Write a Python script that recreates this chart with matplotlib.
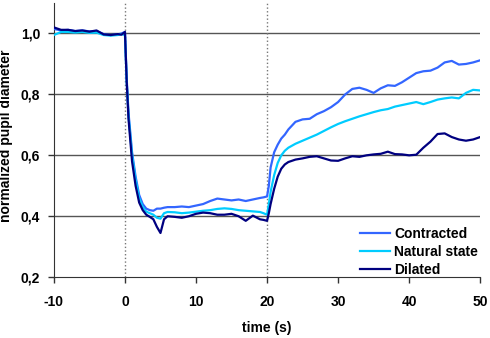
import matplotlib.pyplot as plt

plt.rcParams['font.family'] = ['Liberation Sans', 'DejaVu Sans']
plt.rcParams['font.weight'] = 'bold'
plt.rcParams['axes.unicode_minus'] = False

# time axis (s)
time = [-10, -9, -8, -7, -6, -5, -4, -3, -2, -1, -0.5, 0,
        0.25, 0.5, 1, 1.5, 2, 2.5, 3, 3.5, 4, 4.5, 5, 5.5, 6,
        7, 8, 9, 10, 11, 12, 13, 14, 15, 16, 17, 18, 19, 19.5, 20,
        20.25, 20.5, 21, 21.5, 22, 22.5, 23, 24,
        25, 26, 27, 28, 29, 30, 31, 32, 33, 34, 35, 36, 37, 38, 39,
        40, 41, 42, 43, 44, 45, 46, 47, 48, 49, 50]

contracted = [1.015, 1.01, 1.012, 1.008, 1.01, 1.007, 1.008, 0.998, 0.995, 0.997, 1.0, 1.005,
              0.85, 0.74, 0.61, 0.53, 0.47, 0.44, 0.425, 0.42, 0.418, 0.425, 0.425, 0.428, 0.43,
              0.43, 0.432, 0.43, 0.435, 0.44, 0.45, 0.458, 0.455, 0.452, 0.455, 0.45, 0.455, 0.46, 0.462, 0.465,
              0.5, 0.56, 0.61, 0.635, 0.655, 0.668, 0.685, 0.71,
              0.718, 0.72, 0.735, 0.745, 0.758, 0.775, 0.8, 0.818, 0.822, 0.815, 0.805, 0.82, 0.83, 0.828, 0.84,
              0.855, 0.87, 0.876, 0.878, 0.888, 0.905, 0.91, 0.898, 0.9, 0.905, 0.912]

natural = [0.995, 1.005, 1.005, 1.003, 1.005, 1.002, 1.003, 0.995, 0.993, 0.995, 0.998, 0.995,
           0.84, 0.73, 0.6, 0.52, 0.46, 0.43, 0.415, 0.41, 0.405, 0.395, 0.392, 0.41, 0.414,
           0.413, 0.41, 0.412, 0.415, 0.418, 0.42, 0.424, 0.426, 0.424, 0.42, 0.418, 0.416, 0.414, 0.41, 0.405,
           0.44, 0.48, 0.535, 0.575, 0.6, 0.615, 0.625, 0.638,
           0.648, 0.658, 0.668, 0.68, 0.692, 0.703, 0.712, 0.72, 0.728, 0.735, 0.742, 0.748, 0.752, 0.76, 0.765,
           0.77, 0.775, 0.768, 0.775, 0.783, 0.787, 0.79, 0.787, 0.805, 0.815, 0.813]

dilated = [1.02, 1.012, 1.012, 1.008, 1.01, 1.006, 1.01, 0.997, 0.995, 0.998, 0.996, 1.005,
           0.84, 0.72, 0.58, 0.5, 0.445, 0.42, 0.405, 0.398, 0.39, 0.365, 0.345, 0.39, 0.4,
           0.398, 0.395, 0.4, 0.408, 0.412, 0.41, 0.405, 0.405, 0.408, 0.4, 0.385, 0.402, 0.39, 0.388, 0.385,
           0.41, 0.44, 0.49, 0.53, 0.556, 0.57, 0.578, 0.586,
           0.59, 0.595, 0.597, 0.59, 0.583, 0.582, 0.59, 0.597, 0.595, 0.6, 0.603, 0.605, 0.612, 0.604, 0.603,
           0.6, 0.602, 0.625, 0.645, 0.67, 0.672, 0.66, 0.652, 0.648, 0.652, 0.66]

x_ticks = [-10, 0, 10, 20, 30, 40, 50]
x_tick_labels = ["-10", "0", "10", "20", "30", "40", "50"]
y_ticks = [0.2, 0.4, 0.6, 0.8, 1.0]
y_tick_labels = ["0,2", "0,4", "0,6", "0,8", "1,0"]

fig = plt.figure(figsize=(4.9, 3.38), dpi=100)
ax = fig.add_axes([0.110, 0.180, 0.870, 0.811])

for yv in y_ticks[1:]:
    ax.axhline(yv, color="#555555", linewidth=1.0, zorder=1)
ax.axvline(0, color="#777777", linestyle=":", linewidth=1.0, zorder=1)
ax.axvline(20, color="#777777", linestyle=":", linewidth=1.0, zorder=1)

ax.plot(time, contracted, color="#3366ff", linewidth=1.6, label="Contracted", zorder=3)
ax.plot(time, natural, color="#00ccff", linewidth=1.6, label="Natural state", zorder=3)
ax.plot(time, dilated, color="#000080", linewidth=1.6, label="Dilated", zorder=4)

ax.set_xlim(-10, 50)
ax.set_ylim(0.2, 1.1)
ax.set_xticks(x_ticks)
ax.set_xticklabels(x_tick_labels, fontweight="bold", fontsize=10)
ax.set_yticks(y_ticks)
ax.set_yticklabels(y_tick_labels, fontweight="bold", fontsize=10)
ax.tick_params(axis="both", length=4, width=1, color="#333333", direction="out")
ax.tick_params(axis="x", pad=9)
ax.tick_params(axis="y", pad=6)

ax.spines["top"].set_visible(False)
ax.spines["right"].set_visible(False)
ax.spines["left"].set_color("#333333")
ax.spines["bottom"].set_color("#333333")

ax.set_xlabel("time (s)", fontsize=10, fontweight="bold")
ax.set_ylabel("normalized pupil diameter", fontsize=10, fontweight="bold")
ax.xaxis.set_label_coords(0.5, -0.16)
ax.yaxis.set_label_coords(-0.096, 0.515)

ax.legend(loc="lower right", frameon=False, handlelength=2.2,
          handletextpad=0.3, labelspacing=0.3, borderaxespad=0.2,
          bbox_to_anchor=(1.015, -0.03), prop={"weight": "bold", "size": 10})

plt.savefig("out.png", dpi=100)
plt.close()
